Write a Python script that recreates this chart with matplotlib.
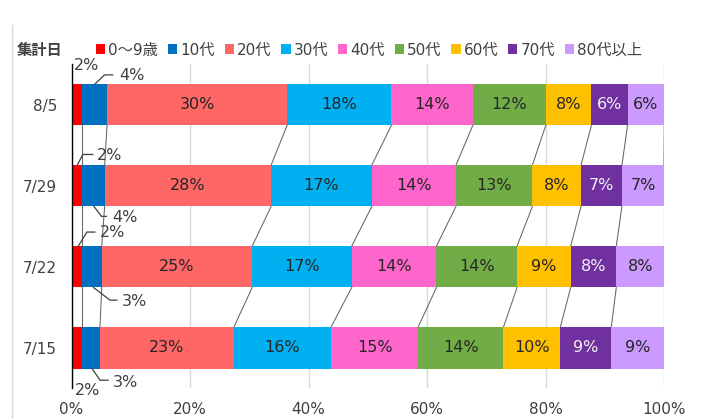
import matplotlib
matplotlib.use('Agg')
import matplotlib.pyplot as plt
from matplotlib.patches import Patch
from matplotlib.lines import Line2D
from matplotlib.transforms import IdentityTransform

plt.rcParams['font.family'] = ['DejaVu Sans', 'Noto Sans CJK JP']

# ---- data ----
dates = ['7/15', '7/22', '7/29', '8/5']          # bottom -> top
groups = ['0～9歳', '10代', '20代', '30代', '40代', '50代', '60代', '70代', '80代以上']
share_0715 = [1.8, 3.0, 22.6, 16.4, 14.7, 14.4, 9.6, 8.6, 8.9]
share_0722 = [1.8, 3.3, 25.4, 16.8, 14.3, 13.6, 9.05, 7.7, 8.05]
share_0729 = [1.8, 3.8, 28.1, 17.0, 14.2, 12.9, 8.2, 6.9, 7.1]
share_0805 = [1.8, 4.2, 30.4, 17.6, 13.75, 12.3, 7.7, 6.1, 6.2]
shares = [share_0715, share_0722, share_0729, share_0805]
xticks = [0, 20, 40, 60, 80, 100]
xticklabels = ['0%', '20%', '40%', '60%', '80%', '100%']

# ---- style ----
colors = ['#FF0000', '#0070C0', '#FF6666', '#00B0F0', '#FF66CC',
          '#70AD47', '#FFC000', '#7030A0', '#CC99FF']
txt_colors = ['#262626'] * 7 + ['#F2F2F2', '#262626']
W, H = 701, 419
fig = plt.figure(figsize=(W / 100, H / 100), dpi=100)
ax = fig.add_axes([71.5 / W, 1 - 388.4 / H, (664 - 71.5) / W, (388.4 - 64) / H])
bar_h = 0.51

ax.set_xlim(0, 100)
ax.set_ylim(-0.5, 3.5)

lefts = []
for i, vals in enumerate(shares):
    left = 0
    row = []
    for k, v in enumerate(vals):
        ax.barh(i, v, left=left, height=bar_h, color=colors[k], linewidth=0, zorder=3)
        row.append(left)
        left += v
    row.append(left)
    lefts.append(row)

# series lines between bars
for i in range(len(shares) - 1):
    for k in range(1, len(groups) + 1):
        ax.plot([lefts[i][k], lefts[i + 1][k]], [i + bar_h / 2, i + 1 - bar_h / 2],
                color='#666666', lw=0.75, zorder=2)

# inside labels
for i, vals in enumerate(shares):
    for k, v in enumerate(vals):
        if k < 2:
            continue
        ax.text(lefts[i][k] + v / 2, i, f'{v:.0f}%', ha='center', va='center',
                fontsize=11.5, color=txt_colors[k], zorder=4)

# outside labels: (date idx, group idx, edge side, leader path in px, text offset px)
outside = [
    (3, 0, +1, None, (10, -18.5)),
    (3, 1, +1, [(0.5, 0), (10, -9), (18, -9)], (25, -8.5)),
    (2, 0, +1, [(0.5, 0), (6, -10.5), (16, -10.5)], (20, -9)),
    (2, 1, -1, [(0.5, 0), (8, 10), (13, 10)], (19, 11.5)),
    (1, 0, +1, [(1.5, 0), (10, -14), (18, -14)], (23, -13.4)),
    (1, 1, -1, [(1.5, 0), (18, 12.7), (25, 12.7)], (29.5, 13.7)),
    (0, 1, -1, [(1, 0), (9, 11.7), (17, 11.7)], (21.5, 13.7)),
    (0, 0, -1, None, (11, 21.7)),
]
for i, k, side, path, (tx, ty) in outside:
    v = shares[i][k]
    x = lefts[i][k] + v / 2
    y = i + side * bar_h / 2
    X0, Y0 = ax.transData.transform((x, y))
    if path is not None:
        fig.add_artist(Line2D([X0 + dx for dx, dy in path], [Y0 - dy for dx, dy in path],
                              transform=IdentityTransform(), color='#404040', lw=0.9))
        ha = 'left'
    else:
        ha = 'center'
    ax.annotate(f'{v:.0f}%', xy=(x, y), xytext=(tx * 0.72, -ty * 0.72),
                textcoords='offset points', ha=ha, va='center', fontsize=11.5,
                color='#404040', annotation_clip=False)

# axes styling
ax.set_yticks(range(len(dates)))
ax.set_yticklabels(dates)
ax.set_xticks(xticks)
ax.set_xticklabels(xticklabels)
ax.tick_params(axis='both', length=0, labelsize=11, labelcolor='#404040')
ax.tick_params(axis='y', pad=10.5)
ax.tick_params(axis='x', pad=10)
for s in ['top', 'right', 'bottom']:
    ax.spines[s].set_visible(False)
ax.spines['left'].set_color('#000000')
ax.spines['left'].set_linewidth(1.0)
ax.spines['left'].set_zorder(5)
ax.grid(axis='x', color='#D9D9D9', lw=1.0, zorder=0)
ax.set_axisbelow(True)

# legend
handles = [Patch(facecolor=c, edgecolor='none') for c in colors]
fig.legend(handles, groups, ncol=9, loc='center left', bbox_to_anchor=(96 / W, 1 - 50 / H),
           frameon=False, handlelength=0.6, handleheight=0.6, handletextpad=0.2,
           columnspacing=0.65, borderpad=0, borderaxespad=0, fontsize=11,
           labelcolor='#404040')
fig.text(17 / W, 1 - 50 / H, '集計日', ha='left', va='center', fontsize=11,
         fontweight='bold', color='#404040')

# chart-area left border
fig.add_artist(Line2D([12 / W, 12 / W], [0, 1 - 25 / H], transform=fig.transFigure,
                      color='#D9D9D9', lw=1.0))

fig.savefig('out.png', dpi=100)
